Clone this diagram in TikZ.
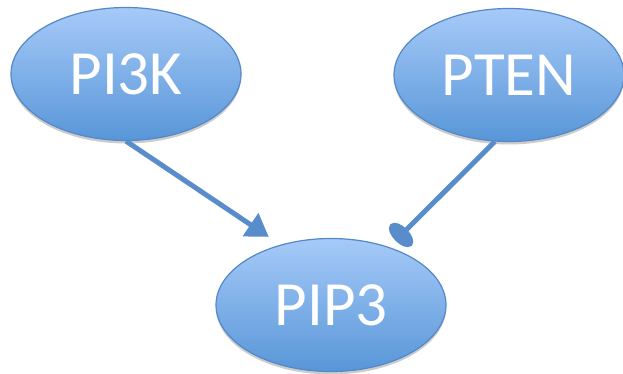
\documentclass[tikz,border=0pt]{standalone}
\usepackage{fontspec}
\setmainfont{Carlito}
\usetikzlibrary{arrows.meta,shadows,shapes.geometric}
\definecolor{nodetop}{RGB}{166,202,248}
\definecolor{nodebot}{RGB}{88,150,216}
\definecolor{nodeedge}{RGB}{84,136,198}
\definecolor{linkblue}{RGB}{88,140,202}

\begin{document}
\begin{tikzpicture}[x=1pt,y=1pt,
  molecule/.style={ellipse, minimum width=230pt, minimum height=133pt, inner sep=0pt,
    top color=nodetop, bottom color=nodebot, draw=nodeedge, line width=1.2pt,
    text=white, font=\fontsize{63}{63}\selectfont,
    drop shadow={shadow xshift=0pt, shadow yshift=-3pt, fill=black, opacity=0.2}},
  link/.style={draw=linkblue, line width=5pt}]
\useasboundingbox (0,0) rectangle (623,373);

% Draw the three molecules
\node[molecule] (pi3k) at (126,299) {PI3K};
\node[molecule] (pten) at (509,298) {PTEN};
\node[molecule] (pip3) at (331,68) {PIP3};

% activation and inhibition
\draw[link, -{Triangle[length=22pt,width=27pt]}, shorten >=14pt] (pi3k.south) -- (pip3.130);
\draw[link, -{Ellipse[length=16pt,width=30pt]}, shorten >=9pt] (pten.258) -- (pip3.45);
\end{tikzpicture}
\end{document}
